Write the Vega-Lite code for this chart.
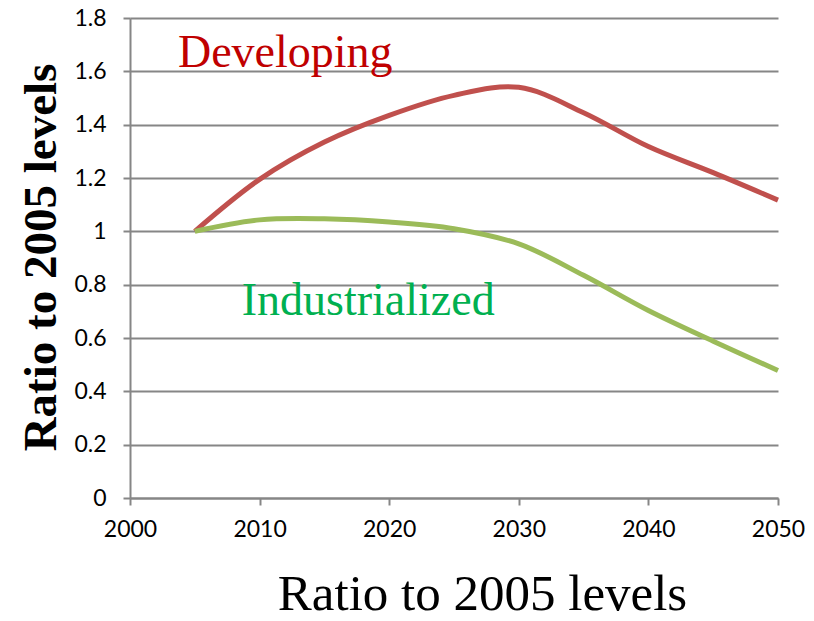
{
  "$schema": "https://vega.github.io/schema/vega-lite/v6.json",
  "width": 648,
  "height": 480,
  "autosize": {"type": "none"},
  "padding": {"left": 130, "top": 18, "right": 36, "bottom": 123},
  "background": "white",
  "config": {"view": {"stroke": null}},
  "datasets": {
    "series": [
      {"year": 2005, "ratio": 1.0, "region": "Developing"},
      {"year": 2010, "ratio": 1.195, "region": "Developing"},
      {"year": 2015, "ratio": 1.335, "region": "Developing"},
      {"year": 2020, "ratio": 1.435, "region": "Developing"},
      {"year": 2025, "ratio": 1.51, "region": "Developing"},
      {"year": 2030, "ratio": 1.54, "region": "Developing"},
      {"year": 2035, "ratio": 1.445, "region": "Developing"},
      {"year": 2040, "ratio": 1.318, "region": "Developing"},
      {"year": 2045, "ratio": 1.22, "region": "Developing"},
      {"year": 2050, "ratio": 1.117, "region": "Developing"},
      {"year": 2005, "ratio": 1.0, "region": "Industrialized"},
      {"year": 2010, "ratio": 1.043, "region": "Industrialized"},
      {"year": 2015, "ratio": 1.047, "region": "Industrialized"},
      {"year": 2020, "ratio": 1.035, "region": "Industrialized"},
      {"year": 2025, "ratio": 1.01, "region": "Industrialized"},
      {"year": 2030, "ratio": 0.953, "region": "Industrialized"},
      {"year": 2035, "ratio": 0.835, "region": "Industrialized"},
      {"year": 2040, "ratio": 0.703, "region": "Industrialized"},
      {"year": 2045, "ratio": 0.588, "region": "Industrialized"},
      {"year": 2050, "ratio": 0.478, "region": "Industrialized"}
    ],
    "labels": [
      {"year": 2003.7, "ratio": 1.616, "label": "Developing"},
      {"year": 2008.62, "ratio": 0.686, "label": "Industrialized"}
    ]
  },
  "layer": [
    {
      "data": {"name": "series"},
      "mark": {"type": "line", "interpolate": "catmull-rom", "strokeWidth": 5, "clip": false},
      "encoding": {
        "x": {
          "field": "year", "type": "quantitative",
          "scale": {"domain": [2000, 2050], "nice": false, "zero": false},
          "axis": {
            "values": [2000, 2010, 2020, 2030, 2040, 2050],
            "format": "d",
            "grid": false,
            "domainColor": "#868686", "domainWidth": 2,
            "tickColor": "#868686", "tickWidth": 2, "tickSize": 7,
            "labelFont": "Lato", "labelFontSize": 23, "labelColor": "#000000",
            "labelPadding": 13, "labelFlush": false, "labelOverlap": false,
            "title": "Ratio to 2005 levels",
            "titleFont": "Liberation Serif", "titleFontSize": 51, "titleFontWeight": "normal",
            "titleColor": "#000000",
            "titleX": 352, "titleY": 111, "titleAlign": "center", "titleBaseline": "alphabetic"
          }
        },
        "y": {
          "field": "ratio", "type": "quantitative",
          "scale": {"domain": [0, 1.8], "nice": false},
          "axis": {
            "values": [0, 0.2, 0.4, 0.6, 0.8, 1, 1.2, 1.4, 1.6, 1.8],
            "format": ".1~f",
            "grid": true, "gridColor": "#868686", "gridWidth": 2,
            "domainColor": "#868686", "domainWidth": 2,
            "tickColor": "#868686", "tickWidth": 2, "tickSize": 7,
            "labelFont": "Lato", "labelFontSize": 23, "labelColor": "#000000",
            "labelPadding": 17, "labelFlush": false, "labelOverlap": false,
            "title": "Ratio to 2005 levels",
            "titleFont": "Liberation Serif", "titleFontSize": 47, "titleFontWeight": "bold",
            "titleColor": "#000000",
            "titleX": -75, "titleY": 239, "titleAngle": 270, "titleAlign": "center", "titleBaseline": "alphabetic"
          }
        },
        "color": {
          "field": "region", "type": "nominal",
          "scale": {"domain": ["Developing", "Industrialized"], "range": ["#c0504d", "#9bbb59"]},
          "legend": null
        }
      }
    },
    {
      "data": {"name": "labels"},
      "mark": {"type": "text", "font": "Liberation Serif", "fontSize": 46, "align": "left", "baseline": "alphabetic"},
      "encoding": {
        "x": {"field": "year", "type": "quantitative"},
        "y": {"field": "ratio", "type": "quantitative"},
        "text": {"field": "label"},
        "color": {
          "field": "label", "type": "nominal",
          "scale": {"domain": ["Developing", "Industrialized"], "range": ["#c00000", "#00b050"]},
          "legend": null
        }
      }
    }
  ],
  "resolve": {"scale": {"color": "independent"}}
}
